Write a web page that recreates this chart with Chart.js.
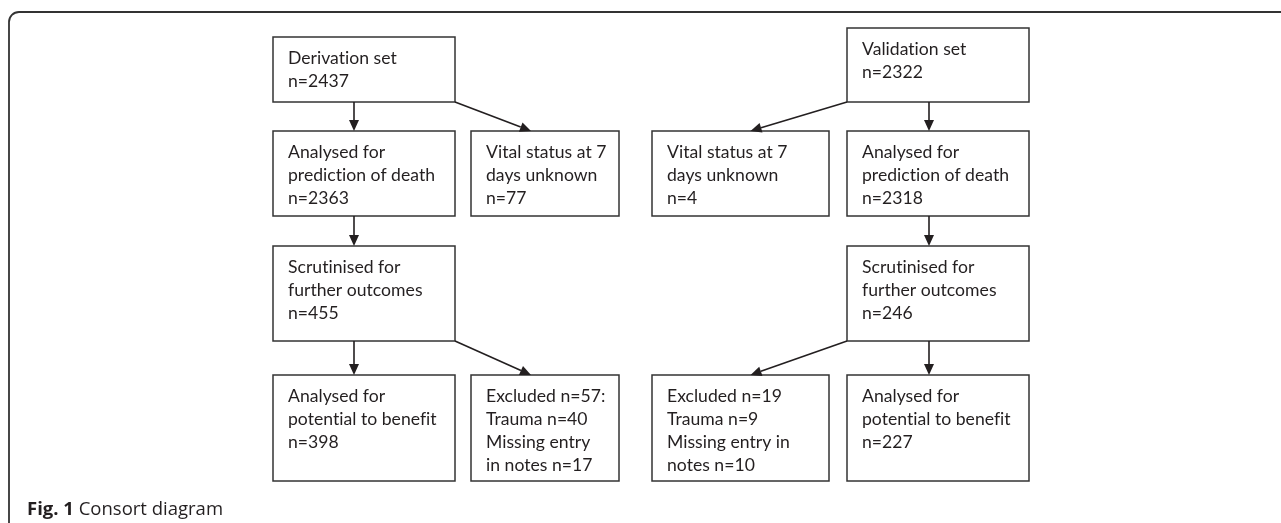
<!DOCTYPE html>
<html>
<head>
<meta charset="utf-8">
<script src="https://cdn.jsdelivr.net/npm/chart.js@4.4.0/dist/chart.umd.min.js"></script>
<style>
  html, body { margin: 0; padding: 0; background: #fff; }
  #wrap { width: 1281px; height: 523px; }
</style>
</head>
<body>
<div id="wrap"><canvas id="flow" width="1281" height="523"></canvas></div>
<script>
// counts per cohort: [derivation, validation]
const cohorts = ["Derivation set", "Validation set"];
const setCounts = [2437, 2322];
const analysedCounts = [2363, 2318];
const unknownCounts = [77, 4];
const scrutinisedCounts = [455, 246];
const benefitCounts = [398, 227];
const excludedCounts = [57, 19];
const traumaCounts = [40, 9];
const missingCounts = [17, 10];

const caption = ["Fig. 1", "Consort diagram"];

// box text, built from the counts
function boxText(i) {
    const excl = i === 0
        ? ["Excluded n=" + excludedCounts[i] + ":", "Trauma n=" + traumaCounts[i], "Missing entry", "in notes n=" + missingCounts[i]]
        : ["Excluded n=" + excludedCounts[i], "Trauma n=" + traumaCounts[i], "Missing entry in", "notes n=" + missingCounts[i]];
    return {
        set: [cohorts[i], "n=" + setCounts[i]],
        analysed: ["Analysed for", "prediction of death", "n=" + analysedCounts[i]],
        unknown: ["Vital status at 7", "days unknown", "n=" + unknownCounts[i]],
        scrutinised: ["Scrutinised for", "further outcomes", "n=" + scrutinisedCounts[i]],
        benefit: ["Analysed for", "potential to benefit", "n=" + benefitCounts[i]],
        excluded: excl,
    };
}

// layout in scale units (x 0..1281, y 0..523 top-down)
const mainCols = [[273, 455], [847, 1029]];
const sideCols = [[471, 619], [652, 829]];
const spineX = [354, 929];
const rows = [[37, 102], [131, 216], [246, 341], [375, 481]];
const setTops = [37, 28];

const flowPlugin = {
    id: "flow",
    afterDraw(chart) {
        const ctx = chart.ctx;
        const xs = chart.scales.x, ys = chart.scales.y;
        const px = (v) => xs.getPixelForValue(v);
        const py = (v) => ys.getPixelForValue(v);
        const ink = "#231f20";

        // outer frame
        ctx.save();
        ctx.strokeStyle = "#333";
        ctx.lineWidth = 1.8;
        ctx.beginPath();
        const r = 10;
        ctx.moveTo(px(9), py(523));
        ctx.lineTo(px(9), py(12 + r));
        ctx.arcTo(px(9), py(12), px(9 + r), py(12), r);
        ctx.lineTo(px(1281), py(12));
        ctx.stroke();
        ctx.restore();

        function box(x0, x1, y0, y1, lines) {
            ctx.save();
            ctx.strokeStyle = "#333";
            ctx.lineWidth = 1.5;
            ctx.strokeRect(px(x0), py(y0), px(x1) - px(x0), py(y1) - py(y0));
            ctx.fillStyle = ink;
            ctx.font = "17.6px Lato";
            ctx.letterSpacing = "0.01px"; // stops the "ti" ligature
            ctx.textBaseline = "alphabetic";
            lines.forEach((t, k) => {
                ctx.fillText(t, px(x0) + 15, py(y0) + 27 + k * 23);
            });
            ctx.restore();
        }

        function arrow(x0, y0, x1, y1) {
            const a = px(x0), b = py(y0), c = px(x1), d = py(y1);
            const ang = Math.atan2(d - b, c - a);
            const L = 11, W = 5;
            ctx.save();
            ctx.strokeStyle = ink;
            ctx.fillStyle = ink;
            ctx.lineWidth = 1.6;
            ctx.beginPath();
            ctx.moveTo(a, b);
            ctx.lineTo(c - Math.cos(ang) * L, d - Math.sin(ang) * L);
            ctx.stroke();
            ctx.beginPath();
            ctx.moveTo(c, d);
            ctx.lineTo(c - Math.cos(ang) * L - Math.sin(ang) * W, d - Math.sin(ang) * L + Math.cos(ang) * W);
            ctx.lineTo(c - Math.cos(ang) * L + Math.sin(ang) * W, d - Math.sin(ang) * L - Math.cos(ang) * W);
            ctx.closePath();
            ctx.fill();
            ctx.restore();
        }

        [0, 1].forEach((i) => {
            const t = boxText(i);
            const m = mainCols[i], s = sideCols[i];
            const sx = spineX[i];
            const inner = i === 0 ? m[1] : m[0];          // edge facing the side column
            const sideMid = (s[0] + s[1]) / 2;

            box(m[0], m[1], setTops[i], rows[0][1], t.set);
            box(m[0], m[1], rows[1][0], rows[1][1], t.analysed);
            box(s[0], s[1], rows[1][0], rows[1][1], t.unknown);
            box(m[0], m[1], rows[2][0], rows[2][1], t.scrutinised);
            box(m[0], m[1], rows[3][0], rows[3][1], t.benefit);
            box(s[0], s[1], rows[3][0], rows[3][1], t.excluded);

            arrow(sx, rows[0][1], sx, rows[1][0]);
            arrow(inner, rows[0][1], sideMid + (i === 0 ? -14 : 10), rows[1][0]);
            arrow(sx, rows[1][1], sx, rows[2][0]);
            arrow(sx, rows[2][1], sx, rows[3][0]);
            arrow(inner, rows[2][1], sideMid + (i === 0 ? -14 : 10), rows[3][0]);
        });

        // caption
        ctx.save();
        ctx.fillStyle = ink;
        ctx.font = "bold 18.5px 'Open Sans'";
        ctx.fillText(caption[0], px(27), py(515));
        const w = ctx.measureText(caption[0] + " ").width;
        ctx.font = "18.5px 'Open Sans'";
        ctx.fillText(caption[1], px(27) + w, py(515));
        ctx.restore();
    },
};

new Chart(document.getElementById("flow"), {
    type: "scatter",
    data: { datasets: [{ data: [], pointRadius: 0 }] },
    options: {
        responsive: false,
        animation: false,
        layout: { padding: 0 },
        plugins: { legend: { display: false }, tooltip: { enabled: false } },
        scales: {
            x: { type: "linear", min: 0, max: 1281, display: false },
            y: { type: "linear", min: 0, max: 523, reverse: true, display: false },
        },
    },
    plugins: [flowPlugin],
});
</script>
</body>
</html>
